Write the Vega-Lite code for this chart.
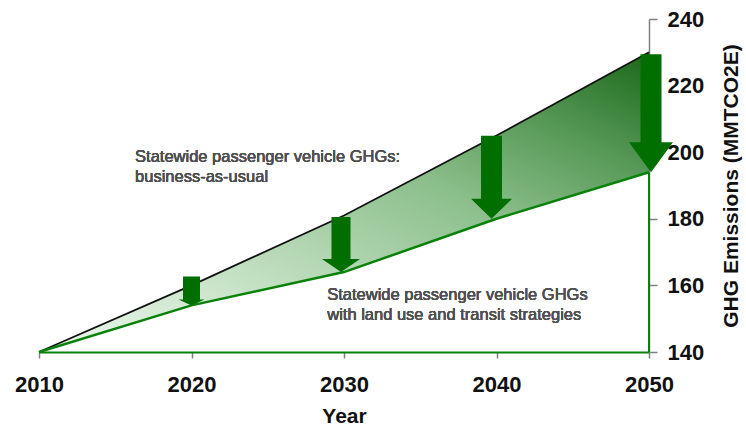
{
  "$schema": "https://vega.github.io/schema/vega-lite/v6.json",
  "width": 610,
  "height": 333,
  "autosize": {"type": "none"},
  "padding": {"left": 39, "top": 19, "right": 97, "bottom": 77},
  "background": "white",
  "config": {
    "view": {"stroke": null},
    "font": "Liberation Sans"
  },
  "data": {
    "values": [
      {"year": 2010, "bau": 140, "strategy": 140},
      {"year": 2020, "bau": 160, "strategy": 154},
      {"year": 2030, "bau": 181, "strategy": 164},
      {"year": 2040, "bau": 205, "strategy": 180},
      {"year": 2050, "bau": 230, "strategy": 194}
    ]
  },
  "layer": [
    {
      "mark": {
        "type": "area",
        "color": {
          "gradient": "linear",
          "x1": 0, "y1": 1, "x2": 1, "y2": 0,
          "stops": [
            {"offset": 0, "color": "#eef7ee"},
            {"offset": 0.25, "color": "#cbe5cb"},
            {"offset": 0.6, "color": "#8cbf8c"},
            {"offset": 0.8, "color": "#569856"},
            {"offset": 1, "color": "#1a681a"}
          ]
        },
        "opacity": 1
      },
      "encoding": {
        "x": {
          "field": "year", "type": "quantitative",
          "scale": {"domain": [2010, 2050], "nice": false, "zero": false},
          "axis": {
            "values": [2010, 2020, 2030, 2040, 2050],
            "format": "d",
            "grid": false,
            "title": "Year",
            "titleFont": "Liberation Sans",
            "titleFontSize": 21,
            "titleFontWeight": "bold",
            "titleColor": "#111111",
            "titlePadding": 10,
            "labelFont": "Liberation Sans",
            "labelFontSize": 22,
            "labelFontWeight": "bold",
            "labelColor": "#111111",
            "labelPadding": 16,
            "labelFlush": false,
            "tickColor": "#808080",
            "tickSize": 6,
            "tickWidth": 1.5,
            "domainColor": "#0a820a",
            "domainWidth": 2
          }
        },
        "y": {
          "field": "bau", "type": "quantitative",
          "scale": {"domain": [140, 240], "nice": false, "zero": false},
          "axis": {
            "orient": "right",
            "values": [140, 160, 180, 200, 220, 240],
            "grid": false,
            "title": "GHG Emissions (MMTCO2E)",
            "titleAngle": 270,
            "titleFont": "Liberation Sans",
            "titleFontSize": 21,
            "titleFontWeight": "bold",
            "titleColor": "#111111",
            "titlePadding": 38,
            "labelFont": "Liberation Sans",
            "labelFontSize": 22,
            "labelFontWeight": "bold",
            "labelColor": "#111111",
            "labelPadding": 10,
            "labelFlush": false,
            "tickColor": "#808080",
            "tickSize": 8,
            "tickWidth": 1.5,
            "domainColor": "#808080",
            "domainWidth": 1.5
          }
        },
        "y2": {"field": "strategy"}
      }
    },
    {
      "mark": {"type": "line", "color": "#111111", "strokeWidth": 1.8},
      "encoding": {
        "x": {"field": "year", "type": "quantitative"},
        "y": {"field": "bau", "type": "quantitative"}
      }
    },
    {
      "mark": {"type": "line", "color": "#0a820a", "strokeWidth": 2.5},
      "encoding": {
        "x": {"field": "year", "type": "quantitative"},
        "y": {"field": "strategy", "type": "quantitative"}
      }
    },
    {
      "transform": [{"filter": "datum.year == 2050"}],
      "mark": {"type": "rule", "color": "#0a820a", "strokeWidth": 2},
      "encoding": {
        "x": {"field": "year", "type": "quantitative"},
        "y": {"field": "strategy", "type": "quantitative"},
        "y2": {"datum": 140}
      }
    },
    {
      "transform": [{"filter": "datum.year > 2010"}],
      "mark": {"type": "point", "filled": true, "opacity": 1, "strokeWidth": 0, "color": "#006f00", "size": 4},
      "encoding": {
        "x": {"field": "year", "type": "quantitative"},
        "y": {"field": "strategy", "type": "quantitative"},
        "shape": {
          "field": "year", "type": "ordinal",
          "scale": {
            "domain": [2020, 2030, 2040, 2050],
            "range": [
              "M-8.5,-29L8.5,-29L8.5,-6L13,-6L0,0L-13,-6L-8.5,-6Z",
              "M-12.5,-55L6.5,-55L6.5,-13L16,-13L-3,0L-22,-13L-12.5,-13Z",
              "M-15.5,-83L5.5,-83L5.5,-20L15.5,-20L-5,0L-25.5,-20L-15.5,-20Z",
              "M-8.5,-118L12.5,-118L12.5,-30L24,-30L2,0L-20,-30L-8.5,-30Z"
            ]
          },
          "legend": null
        }
      }
    },
    {
      "mark": {"type": "text", "align": "left", "baseline": "alphabetic", "font": "Liberation Sans", "fontSize": 16.5, "fontWeight": "normal", "lineHeight": 20, "color": "#505050"},
      "encoding": {
        "x": {"datum": 2016.3, "type": "quantitative"},
        "y": {"datum": 197.2, "type": "quantitative"},
        "text": {"value": ["Statewide passenger vehicle GHGs:", "business-as-usual"]}
      }
    },
    {
      "mark": {"type": "text", "align": "left", "baseline": "alphabetic", "font": "Liberation Sans", "fontSize": 16.5, "fontWeight": "normal", "lineHeight": 20, "color": "#505050"},
      "encoding": {
        "x": {"datum": 2028.9, "type": "quantitative"},
        "y": {"datum": 155.6, "type": "quantitative"},
        "text": {"value": ["Statewide passenger vehicle GHGs", "with land use and transit strategies"]}
      }
    }
  ]
}
